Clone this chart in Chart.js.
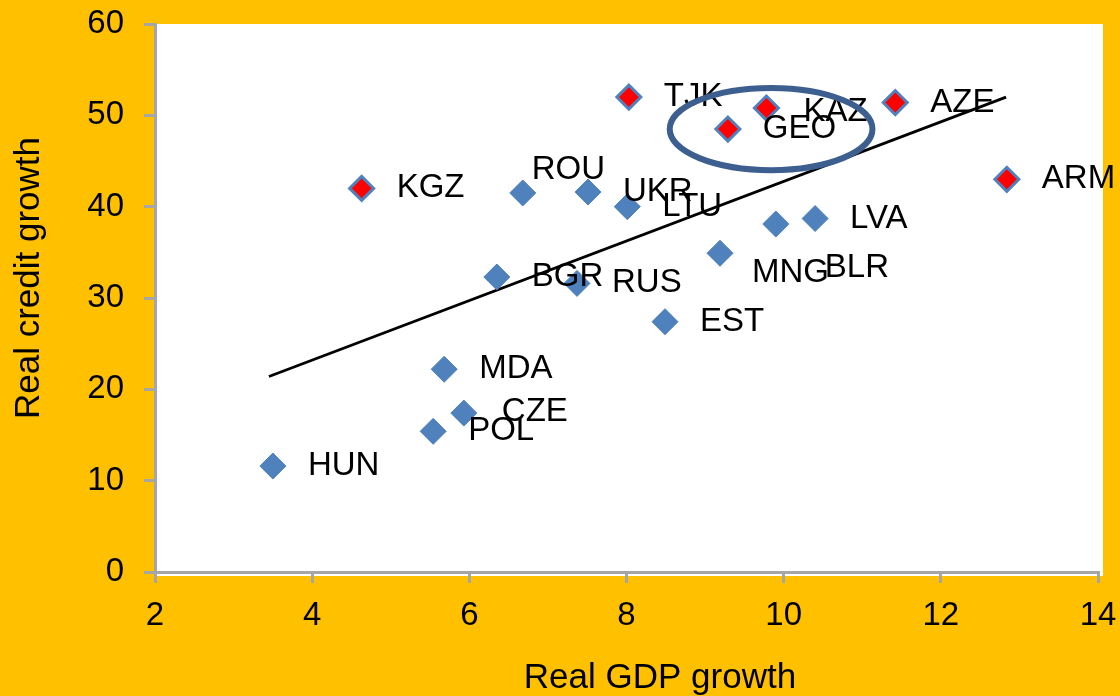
<!DOCTYPE html>
<html>
<head>
<meta charset="utf-8">
<script src="https://cdn.jsdelivr.net/npm/chart.js@4.4.1/dist/chart.umd.min.js"></script>
<style>
  html, body { margin:0; padding:0; background:#FFC000; }
  #wrap { width:1120px; height:696px; }
</style>
</head>
<body>
<div id="wrap"><canvas id="cv" width="1120" height="696"></canvas></div>
<script>
/* data */
const blueNames = ["HUN","POL","CZE","MDA","BGR","RUS","EST","ROU","UKR","LTU","MNG","BLR","LVA"];
const blueX = [3.50, 5.54, 5.93, 5.68, 6.35, 7.37, 8.49, 6.68, 7.51, 8.01, 9.19, 9.90, 10.40];
const blueY = [11.6, 15.4, 17.4, 22.2, 32.3, 31.6, 27.4, 41.5, 41.6, 40.0, 34.9, 38.1, 38.7];

const redNames = ["KGZ","TJK","GEO","KAZ","AZE","ARM"];
const redX = [4.63, 8.03, 9.29, 9.78, 11.42, 12.84];
const redY = [42.0, 52.0, 48.5, 50.8, 51.4, 43.0];

const trendX = [3.45, 12.83];
const trendY = [21.4, 52.0];

const xTicks = [2, 4, 6, 8, 10, 12, 14];
const yTicks = [0, 10, 20, 30, 40, 50, 60];

// ellipse around the GEO/KAZ group (data units)
const ringCenter = [9.84, 48.5];
const ringRadius = [1.29, 4.5];

const FONT = "Liberation Sans, Arial, sans-serif";
const AXIS_GREY = "#a6a6a6";
const BLUE = "#4f81bd";

// label nudges in px from the marker (default: right of it)
const NUDGE = {
  ROU: [9, -23],
  MNG: [32, 20],
  BLR: [49, 44],
  KAZ: [37, 4],
  CZE: [38, -1]
};

const pts = (xs, ys) => xs.map((x, i) => ({ x: x, y: ys[i] }));

const plotBg = {
  id: "plotBg",
  beforeDraw(chart) {
    const a = chart.chartArea, c = chart.ctx;
    c.save();
    c.fillStyle = "#ffffff";
    c.fillRect(a.left + 1, a.top, a.right - a.left + 4, a.bottom - a.top + 4);
    c.restore();
  }
};

const pointLabels = {
  id: "pointLabels",
  afterDatasetsDraw(chart) {
    const c = chart.ctx;
    c.save();
    c.font = "33px " + FONT;
    c.fillStyle = "#000";
    c.textAlign = "left";
    c.textBaseline = "middle";
    chart.data.datasets.forEach((ds, di) => {
      if (!ds.names) return;
      chart.getDatasetMeta(di).data.forEach((el, i) => {
        const n = ds.names[i];
        const d = NUDGE[n] || [35, 0];
        c.fillText(n, el.x + d[0], el.y + d[1]);
      });
    });
    c.restore();
  }
};

const ringAndTitles = {
  id: "ringAndTitles",
  afterDraw(chart) {
    const c = chart.ctx, sx = chart.scales.x, sy = chart.scales.y;
    const cx = sx.getPixelForValue(ringCenter[0]);
    const cy = sy.getPixelForValue(ringCenter[1]);
    const rx = sx.getPixelForValue(ringCenter[0] + ringRadius[0]) - cx;
    const ry = cy - sy.getPixelForValue(ringCenter[1] + ringRadius[1]);
    c.save();
    c.strokeStyle = "#3c5f8f";
    c.lineWidth = 6;
    c.beginPath();
    c.ellipse(cx, cy, rx, ry, 0, 0, Math.PI * 2);
    c.stroke();

    c.fillStyle = "#000";
    c.font = "35px " + FONT;
    c.textAlign = "center";
    c.textBaseline = "middle";
    c.fillText("Real GDP growth", 660, 678);
    c.translate(29, 278);
    c.rotate(-Math.PI / 2);
    c.fillText("Real credit growth", 0, 0);
    c.restore();
  }
};

new Chart(document.getElementById("cv"), {
  type: "scatter",
  data: {
    datasets: [
      {
        label: "red",
        names: redNames,
        data: pts(redX, redY),
        pointStyle: "rectRot",
        pointRadius: 12,
        pointHoverRadius: 12,
        backgroundColor: "#ff0000",
        borderColor: BLUE,
        borderWidth: 3
      },
      {
        label: "blue",
        names: blueNames,
        data: pts(blueX, blueY),
        pointStyle: "rectRot",
        pointRadius: 13,
        pointHoverRadius: 13,
        backgroundColor: BLUE,
        borderColor: BLUE,
        borderWidth: 1
      },
      {
        label: "trend",
        type: "line",
        data: pts(trendX, trendY),
        borderColor: "#000",
        borderWidth: 2.8,
        pointRadius: 0,
        fill: false
      }
    ]
  },
  options: {
    responsive: false,
    animation: false,
    events: [],
    layout: { padding: { top: 24, right: 22, left: 0, bottom: 0 } },
    plugins: { legend: { display: false }, tooltip: { enabled: false } },
    scales: {
      x: {
        type: "linear",
        min: 2, max: 14,
        afterBuildTicks: s => { s.ticks = xTicks.map(v => ({ value: v })); },
        afterFit: s => { s.height = 124; s.paddingLeft = 0; s.paddingRight = 0; },
        grid: { drawOnChartArea: false, drawTicks: true, tickLength: 11, color: AXIS_GREY, lineWidth: 3 },
        border: { color: AXIS_GREY, width: 3 },
        ticks: { color: "#000", font: { family: FONT, size: 33 }, padding: 13, maxRotation: 0 }
      },
      y: {
        type: "linear",
        min: 0, max: 60,
        afterBuildTicks: s => { s.ticks = yTicks.map(v => ({ value: v })); },
        afterFit: s => { s.width = 155; s.paddingTop = 0; s.paddingBottom = 0; },
        grid: { drawOnChartArea: false, drawTicks: true, tickLength: 11, color: AXIS_GREY, lineWidth: 3 },
        border: { color: AXIS_GREY, width: 3 },
        ticks: { color: "#000", font: { family: FONT, size: 33 }, padding: 20 }
      }
    }
  },
  plugins: [plotBg, pointLabels, ringAndTitles]
});
</script>
</body>
</html>
